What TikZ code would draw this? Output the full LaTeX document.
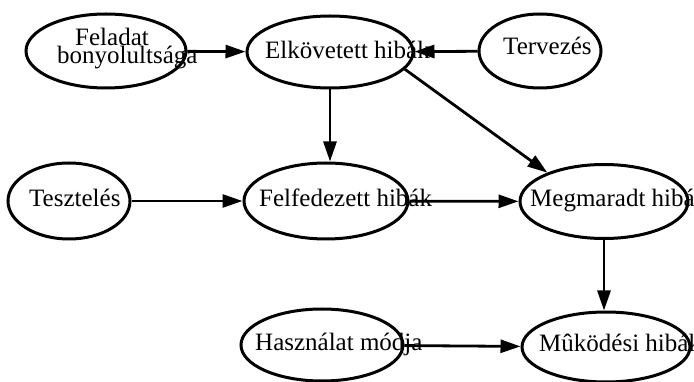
\documentclass[tikz,border=0pt]{standalone}
\usepackage{fontspec}
\setmainfont{Liberation Serif}
\usetikzlibrary{shapes.geometric,arrows.meta}
\begin{document}
\begin{tikzpicture}[x=1pt,y=-1pt,
  box/.style={ellipse,draw,line width=3pt,inner sep=0pt},
  lbl/.style={anchor=base west,inner sep=0pt,font=\fontsize{25}{25}\selectfont},
  link/.style={line width=2.8pt,-{Triangle[length=20pt,width=13pt]}}]
\useasboundingbox (0,0) rectangle (694,382);

% factor nodes
\node[box,minimum width=160pt,minimum height=74pt] (fel) at (106,51) {};
\node[box,minimum width=166pt,minimum height=72pt] (elk) at (330,52) {};
\node[box,minimum width=122pt,minimum height=74pt] (ter) at (540,51) {};
\node[box,minimum width=122pt,minimum height=76pt] (tes) at (69,201) {};
\node[box,minimum width=164pt,minimum height=76pt] (ffd) at (326,201) {};
\node[box,minimum width=168pt,minimum height=74pt] (meg) at (604,201.5) {};
\node[box,minimum width=162pt,minimum height=72pt] (has) at (322,345) {};
\node[box,minimum width=168pt,minimum height=70pt] (muk) at (606,347) {};

% labels
\node[lbl] (felA) at (75,46) {Feladat};
\node[lbl] (felB) at (57,64) {bonyolultsága};
\node[lbl] (elkL) at (265,59) {Elkövetett hibák};
\node[lbl] (terL) at (503,55) {Tervezés};
\node[lbl] (tesL) at (29,207) {Tesztelés};
\node[lbl] (ffdL) at (259,207) {Felfedezett hibák};
\node[lbl] (megL) at (530,207) {Megmaradt hibák};
\node[lbl] (hasL) at (255,350) {Használat módja};
\node[lbl] (mukL) at (539,352) {Mûködési hibák};

% influences
\draw[link] (fel) -- (elk);
\draw[link] (ter) -- (elk);
\draw[link] (elk.south) -- (elk.south |- ffd.north);
\draw[link] (elk.-13) -- (meg.153);
\draw[link] (tes) -- (ffd);
\draw[link] (ffd) -- (meg);
\draw[link] (meg.south) -- (meg.south |- muk.north);
\draw[link] (has) -- (muk);
\end{tikzpicture}
\end{document}
